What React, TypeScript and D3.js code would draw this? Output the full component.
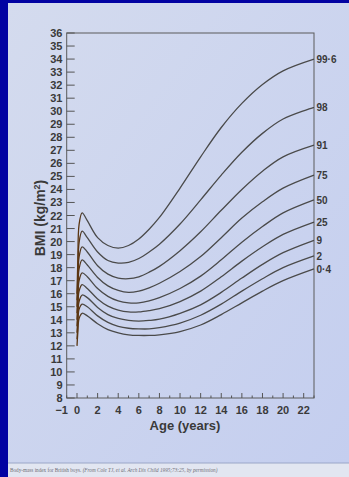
import React from "react";
import * as d3 from "d3";

const ages = [0, 0.08, 0.2, 0.5, 1, 2, 3, 4, 5, 6, 7, 8, 10, 12, 14, 16, 18, 20, 23];
const centileLabels = ["0·4", "2", "9", "25", "50", "75", "91", "98", "99·6"];
const c004 = [12.0, 13.0, 14.1, 14.5, 14.3, 13.7, 13.25, 13.0, 12.85, 12.8, 12.8, 12.85, 13.1, 13.6, 14.4, 15.3, 16.2, 17.0, 17.9];
const c2 = [12.5, 13.6, 14.8, 15.2, 15.0, 14.3, 13.8, 13.5, 13.35, 13.3, 13.3, 13.4, 13.75, 14.35, 15.2, 16.2, 17.15, 18.0, 18.9];
const c9 = [13.0, 14.2, 15.4, 15.9, 15.7, 14.95, 14.4, 14.1, 13.95, 13.9, 13.95, 14.05, 14.5, 15.15, 16.1, 17.2, 18.25, 19.15, 20.1];
const c25 = [13.5, 14.8, 16.2, 16.7, 16.4, 15.6, 15.05, 14.75, 14.6, 14.6, 14.7, 14.85, 15.4, 16.2, 17.3, 18.5, 19.6, 20.55, 21.5];
const c50 = [14.0, 15.4, 17.0, 17.6, 17.3, 16.4, 15.8, 15.45, 15.3, 15.3, 15.45, 15.7, 16.4, 17.35, 18.6, 19.95, 21.15, 22.2, 23.2];
const c75 = [14.5, 16.1, 17.9, 18.6, 18.2, 17.25, 16.6, 16.25, 16.1, 16.2, 16.45, 16.8, 17.7, 18.85, 20.3, 21.8, 23.05, 24.1, 25.1];
const c91 = [15.0, 16.8, 18.8, 19.6, 19.2, 18.15, 17.5, 17.2, 17.15, 17.3, 17.65, 18.1, 19.3, 20.75, 22.4, 24.0, 25.4, 26.5, 27.4];
const c98 = [15.5, 17.5, 19.9, 20.8, 20.3, 19.2, 18.55, 18.35, 18.4, 18.7, 19.2, 19.8, 21.35, 23.2, 25.1, 26.85, 28.3, 29.4, 30.3];
const c996 = [16.0, 18.5, 21.3, 22.2, 21.6, 20.3, 19.7, 19.5, 19.7, 20.2, 20.95, 21.85, 24.1, 26.5, 28.75, 30.6, 32.05, 33.1, 34.0];
const series = [c004, c2, c9, c25, c50, c75, c91, c98, c996];

const yTicks = d3.range(8, 37, 1);
const xMinor = d3.range(-1, 24, 1);
const xLabels = [-1, 0, 2, 4, 6, 8, 10, 12, 14, 16, 18, 20, 22];

export default function App() {
  const W = 349, H = 477;
  const x = d3.scaleLinear().domain([-1, 23]).range([66.7, 314]);
  const y = d3.scaleLinear().domain([8, 36]).range([398, 33]);
  const line = d3
    .line<number>()
    .x((_, i) => x(ages[i]))
    .y((d) => y(d))
    .curve(d3.curveCatmullRom.alpha(0.5));
  const font = "'Liberation Sans Narrow', 'Liberation Sans', Arial, sans-serif";
  const ink = "#3a3a3a";
  return (
    <svg width={W} height={H} style={{ position: "absolute", left: 0, top: 0 }}>
      <defs>
        <linearGradient id="panel" x1="0" y1="0" x2="1" y2="1">
          <stop offset="0" stopColor="#d4dbee" />
          <stop offset="1" stopColor="#c4ceef" />
        </linearGradient>
        <linearGradient id="strk" gradientUnits="userSpaceOnUse" x1={x(0)} y1="0" x2={x(0.6)} y2="0">
          <stop offset="0" stopColor="#5a3512" />
          <stop offset="0.45" stopColor="#5a3512" />
          <stop offset="1" stopColor="#4a4a4a" />
        </linearGradient>
      </defs>
      <rect x={0} y={0} width={W} height={H} fill="#0202a2" />
      <rect x={8} y={3} width={W - 8} height={460} fill="url(#panel)" />
      <rect x={8} y={463} width={W - 8} height={14} fill="#e2e6f1" />
      <line x1={8} x2={W} y1={463} y2={463} stroke="#9aa6c8" strokeWidth={1} />
      <text x={10} y={471.5} fontSize={5.2} fill="#6f6f78" fontFamily="'Liberation Serif', serif">
        Body-mass index for British boys.{" "}
        <tspan fontStyle="italic">(From Cole TJ, et al. Arch Dis Child 1995;73:25, by permission)</tspan>
      </text>

      {/* frame */}
      <rect x={x(-1)} y={y(36)} width={x(23) - x(-1)} height={y(8) - y(36)} fill="none" stroke="#5a5a5a" strokeWidth={1} />

      {/* y ticks */}
      {yTicks.map((t) => (
        <g key={t}>
          <line x1={x(-1)} x2={x(-1) + 8} y1={y(t)} y2={y(t)} stroke="#555" strokeWidth={1} />
          <text x={62.5} y={y(t) + 4} textAnchor="end" fontSize={11} fontWeight="bold" fill={ink} fontFamily={font}>
            {t}
          </text>
        </g>
      ))}

      {/* x ticks */}
      {xMinor.map((t) => (
        <line key={t} x1={x(t)} x2={x(t)} y1={y(8)} y2={y(8) - (t % 2 === 0 ? 5 : 2.5)} stroke="#555" strokeWidth={1} />
      ))}
      {xLabels.map((t) => (
        <text key={t} x={t < 0 ? x(t) - 5 : x(t)} y={413.5} textAnchor="middle" fontSize={11} fontWeight="bold" fill={ink} fontFamily={font}>
          {t < 0 ? "\u2212" + Math.abs(t) : t}
        </text>
      ))}

      <text x={185} y={430} textAnchor="middle" fontSize={13} fontWeight="bold" fill={ink} fontFamily={font}>
        Age (years)
      </text>
      <text
        transform={`translate(45,218) rotate(-90)`}
        textAnchor="middle"
        fontSize={14}
        fontWeight="bold"
        fill={ink}
        fontFamily={font}
      >
        BMI (kg/m<tspan dy={-5} fontSize={9}>2</tspan>
        <tspan dy={5}>)</tspan>
      </text>

      {/* curves */}
      {series.map((s, i) => (
        <path key={i} d={line(s) || ""} fill="none" stroke="url(#strk)" strokeWidth={1.3} />
      ))}
      {series.map((s, i) => (
        <text key={"l" + i} x={316.5} y={y(s[s.length - 1]) + 4} fontSize={10} fontWeight="bold" fill={ink} fontFamily={font}>
          {centileLabels[i]}
        </text>
      ))}
    </svg>
  );
}
